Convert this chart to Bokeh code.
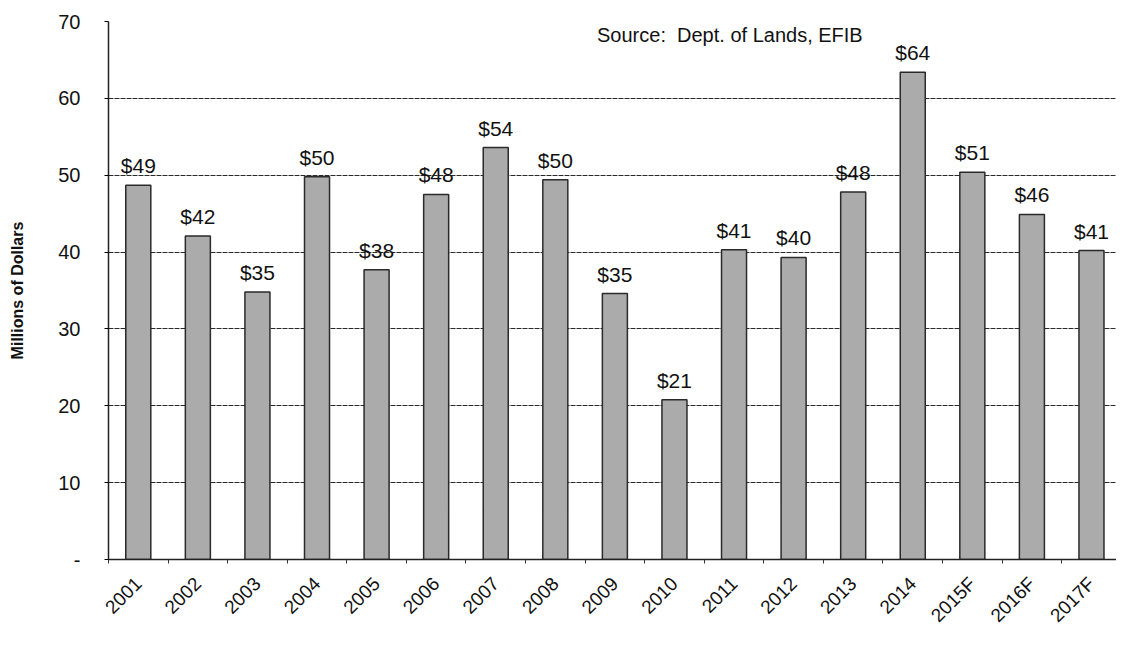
import math
from bokeh.plotting import figure
from bokeh.models import ColumnDataSource, FixedTicker, Range1d, Label
from bokeh.embed import file_html
from bokeh.resources import INLINE

years = ["2001", "2002", "2003", "2004", "2005", "2006", "2007", "2008", "2009",
         "2010", "2011", "2012", "2013", "2014", "2015F", "2016F", "2017F"]
values = [48.7, 42.1, 34.8, 49.8, 37.7, 47.5, 53.6, 49.4, 34.6,
          20.8, 40.3, 39.3, 47.8, 63.4, 50.4, 44.9, 40.2]
labels = ["$49", "$42", "$35", "$50", "$38", "$48", "$54", "$50", "$35",
          "$21", "$41", "$40", "$48", "$64", "$51", "$46", "$41"]

xc = [i + 0.5 for i in range(len(years))]
src = ColumnDataSource(dict(x=xc, top=values, lab=labels))

FONT = "Liberation Sans"

p = figure(width=1116, height=636, output_backend="svg", toolbar_location=None,
           x_range=Range1d(0, 16.92), y_range=Range1d(0, 70),
           min_border_left=108, min_border_right=0, min_border_top=21, min_border_bottom=63)
p.outline_line_color = None

p.vbar(x="x", top="top", width=0.42, bottom=0, source=src,
       fill_color="#ababab", line_color="#2a2a2a", line_width=1.5)
p.text(x="x", y="top", text="lab", source=src, text_align="center", text_baseline="bottom",
       y_offset=-8, text_font_size="21px", text_color="#111111",
       text_font={"value": FONT})

# y axis
p.yaxis.ticker = FixedTicker(ticks=[0, 10, 20, 30, 40, 50, 60, 70])
p.yaxis.major_label_overrides = {0: "-"}
p.yaxis.major_label_text_font = FONT
p.yaxis.major_label_text_font_size = "20px"
p.yaxis.major_label_text_color = "#111111"
p.yaxis.major_label_standoff = 24
p.yaxis.major_tick_out = 4
p.yaxis.major_tick_in = 0
p.yaxis.minor_tick_line_color = None
p.yaxis.axis_line_color = "#222222"
p.yaxis.axis_line_width = 1.5
p.yaxis.axis_label = "Millions of Dollars"
p.yaxis.axis_label_text_font = FONT
p.yaxis.axis_label_text_font_size = "16px"
p.yaxis.axis_label_text_font_style = "bold"
p.yaxis.axis_label_text_color = "#111111"
p.yaxis.axis_label_standoff = 29

# x axis
p.xaxis.ticker = FixedTicker(ticks=xc, minor_ticks=list(range(len(years) + 1)))
p.xaxis.major_label_overrides = {x: y for x, y in zip(xc, years)}
p.xaxis.major_label_orientation = math.pi / 4
p.xaxis.major_label_text_font = FONT
p.xaxis.major_label_text_font_size = "19px"
p.xaxis.major_label_text_color = "#111111"
p.xaxis.major_tick_line_color = None
p.xaxis.minor_tick_out = 4
p.xaxis.minor_tick_in = 0
p.xaxis.minor_tick_line_color = "#333333"
p.xaxis.axis_line_color = "#222222"
p.xaxis.axis_line_width = 1.5
p.xaxis.major_label_standoff = 15

p.xgrid.grid_line_color = None
p.ygrid.grid_line_color = "#2a2a2a"
p.ygrid.grid_line_dash = "5 1"
p.ygrid.grid_line_width = 1.2

p.add_layout(Label(x=8.2, y=68.3, text="Source:\u00a0 Dept. of Lands, EFIB",
                   text_font=FONT, text_font_size="20px", text_color="#111111",
                   text_baseline="middle"))

open("out.html", "w").write(file_html(p, INLINE))
